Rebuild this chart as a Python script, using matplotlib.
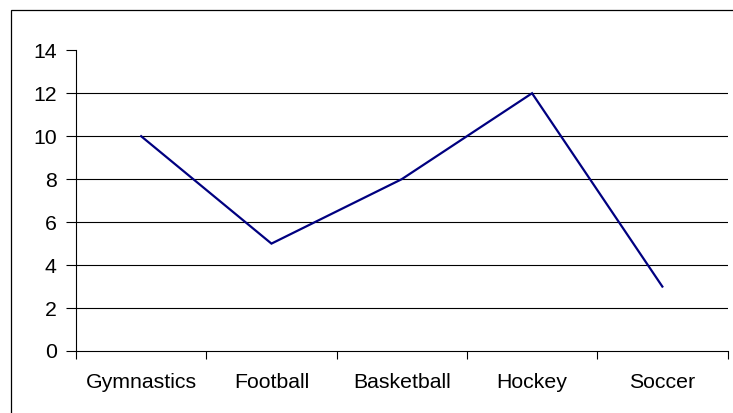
import matplotlib
matplotlib.use("Agg")
import matplotlib.pyplot as plt
from matplotlib.patches import Rectangle
import numpy as np

categories = ["Gymnastics", "Football", "Basketball", "Hockey", "Soccer"]
values = [10, 5, 8, 12, 3]
y_ticks = [0, 2, 4, 6, 8, 10, 12, 14]

plt.rcParams['font.family'] = ['Liberation Sans', 'DejaVu Sans']

W, H = 733, 413
fig = plt.figure(figsize=(W / 100, H / 100), dpi=100)
ax = fig.add_axes([76 / W, 1 - 351 / H, (727.5 - 76) / W, (351 - 50.3) / H])

x = np.arange(len(categories))
ax.plot(x, values, color="#000080", lw=1.6, solid_joinstyle="miter")

ax.set_xlim(-0.5, len(categories) - 0.5)
ax.set_ylim(0, 14)
ax.set_yticks(y_ticks)
ax.set_yticklabels([str(v) for v in y_ticks])
ax.set_xticks(x)
ax.set_xticklabels(categories)
ax.set_xticks(np.arange(-0.5, len(categories), 1.0), minor=True)

for yv in y_ticks[1:-1]:
    ax.axhline(yv, color="black", lw=0.8, zorder=0)

ax.tick_params(axis="x", which="major", length=0, pad=16, labelsize=15.3)
ax.tick_params(axis="x", which="minor", length=6, width=0.8, direction="out")
ax.tick_params(axis="y", length=7, width=0.8, pad=7, labelsize=15.3)

for s in ["top", "right"]:
    ax.spines[s].set_visible(False)
for s in ["left", "bottom"]:
    ax.spines[s].set_linewidth(0.8)
    ax.spines[s].set_color("black")

rect = Rectangle((11 / W, -0.05), 1.2, 1 - 10 / H + 0.05, transform=fig.transFigure,
                 fill=False, edgecolor="black", lw=0.9)
fig.patches.append(rect)

fig.savefig("out.png", dpi=100)
